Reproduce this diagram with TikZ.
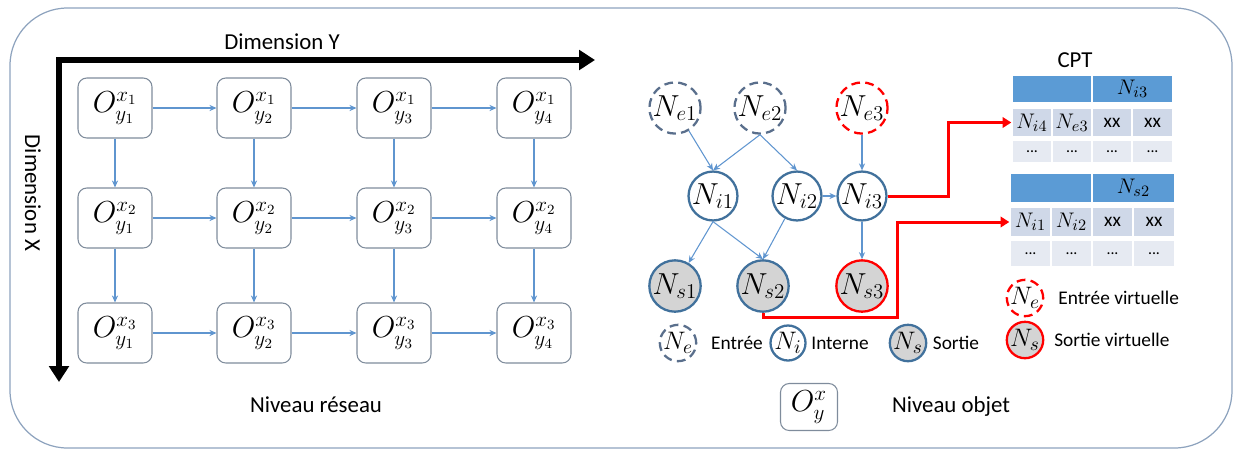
\documentclass[tikz,border=0pt]{standalone}
\usepackage{fontspec}
\setmainfont{Carlito}
\usetikzlibrary{arrows.meta}
\definecolor{framec}{HTML}{8EA3BE}
\definecolor{boxb}{HTML}{7F8C9C}
\definecolor{garr}{HTML}{5F95CF}
\definecolor{circb}{HTML}{41719C}
\definecolor{entb}{HTML}{5A6F8C}
\definecolor{sfill}{HTML}{D4D4D4}
\definecolor{vred}{HTML}{FF0000}
\definecolor{hdr}{HTML}{5B9BD5}
\definecolor{rowc}{HTML}{CFD8E8}
\definecolor{dotc}{HTML}{E6EAF2}
\begin{document}
\begin{tikzpicture}[x=0.02cm,y=-0.02cm,
  lbl/.style={font=\fontsize{13}{15}\selectfont, inner sep=0},
  smalllbl/.style={font=\fontsize{11}{13}\selectfont, inner sep=0},
  objbox/.style={draw=boxb, line width=0.6pt, rounded corners=5pt, fill=white, minimum width=1.48cm, minimum height=1.2cm, inner sep=0, font=\fontsize{16.5}{16.5}\selectfont},
  garrow/.style={draw=garr, line width=0.6pt, -{Stealth[length=4pt,width=3.5pt]}},
  axis/.style={line width=3.4pt, {Triangle[length=9pt,width=11pt]}-{Triangle[length=9pt,width=11pt]}},
  bnode/.style={circle, draw=circb, line width=1.3pt, minimum size=0.92cm, inner sep=0, font=\fontsize{16.5}{16.5}\selectfont},
  entnode/.style={bnode, draw=entb, dash pattern=on 5pt off 3pt},
  sornode/.style={bnode, fill=sfill},
  legsize/.style={minimum size=0.7cm, font=\fontsize{15}{15}\selectfont},
  redline/.style={draw=vred, line width=1.7pt, -{Triangle[length=5pt,width=6pt]}},
  tcell/.style={draw=white, line width=0.8pt, inner sep=0, font=\fontsize{13}{13}\selectfont},
  xxcell/.style={font=\fontsize{11}{11}\selectfont},
  dotcell/.style={tcell, fill=dotc, font=\fontsize{9}{9}\selectfont},
]
\useasboundingbox (0,0) rectangle (1234,451);
% outer frame
\draw[framec, line width=0.7pt, rounded corners=1.15cm] (10,8) rectangle (1232,448);

% axes
\coordinate (ax0) at (59,60);
\coordinate (axX) at (595,60);
\coordinate (axY) at (59,382);
\draw[axis] (axY) -- (ax0) -- (axX);
\node[lbl] (dimY) at (282,42) {Dimension Y};
\node[lbl, rotate=-90] (dimX) at (33,193) {Dimension X};

% grid of objects
\foreach \r/\y in {1/108,2/218,3/333}
  \foreach \c/\x in {1/115,2/254,3/394,4/534}
    \node[objbox] (o\r\c) at (\x,\y) {$O^{x_{\r}}_{y_{\c}}$};
\foreach \r in {1,2,3}
  \foreach \c/\n in {1/2,2/3,3/4}
    \draw[garrow] (o\r\c.east) -- (o\r\n.west);
\foreach \c in {1,2,3,4}
  \foreach \r/\n in {1/2,2/3}
    \draw[garrow] (o\r\c.south) -- (o\n\c.north);
\node[lbl] (nivres) at (316,405) {Niveau réseau};

% object-level graph
\node[entnode] (ne1) at (675,108) {$N_{e1}$};
\node[entnode] (ne2) at (760,108) {$N_{e2}$};
\node[entnode, draw=vred] (ne3) at (862,108) {$N_{e3}$};
\node[bnode] (ni1) at (713,196) {$N_{i1}$};
\node[bnode] (ni2) at (797,196) {$N_{i2}$};
\node[bnode] (ni3) at (862,196) {$N_{i3}$};
\node[sornode] (ns1) at (675,286) {$N_{s1}$};
\node[sornode] (ns2) at (763,286) {$N_{s2}$};
\node[sornode, draw=vred] (ns3) at (862,286) {$N_{s3}$};

\draw[garrow] (ne1) -- (ni1.north);
\draw[garrow] (ne2.south) -- (ni1.north);
\draw[garrow] (ne2.south) -- (ni2.north);
\draw[garrow] (ne3) -- (ni3);
\draw[garrow] (ni2) -- (ni3);
\draw[garrow] (ni1.south) -- (ns1);
\draw[garrow] (ni1.south) -- (ns2.north);
\draw[garrow] (ni2) -- (ns2.north);
\draw[garrow] (ni3) -- (ns3);

% legend row
\node[entnode, legsize] (lne) at (678,343) {$N_e$};
\node[smalllbl] (lent) at (737,343) {Entrée};
\node[bnode, legsize] (lni) at (788,343) {$N_i$};
\node[smalllbl] (lint) at (840,343) {Interne};
\node[sornode, legsize] (lns) at (908,343) {$N_s$};
\node[smalllbl] (lsor) at (956,343) {Sortie};

% CPT tables
\node[lbl] (cpt) at (1075,60) {CPT};
% table 1
\node[tcell, fill=hdr, minimum width=1.6cm, minimum height=0.56cm] (t1ha) at (1052,89) {};
\node[tcell, fill=hdr, minimum width=1.62cm, minimum height=0.56cm] (t1hb) at (1132.5,89) {$N_{i3}$};
\node[tcell, fill=rowc, minimum width=0.8cm, minimum height=0.58cm] (t1a) at (1032,122.5) {$N_{i4}$};
\node[tcell, fill=rowc, minimum width=0.8cm, minimum height=0.58cm] (t1b) at (1072,122.5) {$N_{e3}$};
\node[tcell, xxcell, fill=rowc, minimum width=0.8cm, minimum height=0.58cm] (t1c) at (1112,122.5) {xx};
\node[tcell, xxcell, fill=rowc, minimum width=0.82cm, minimum height=0.58cm] (t1d) at (1152.5,122.5) {xx};
\foreach \x/\n in {1032/a,1072/b,1112/c,1152.5/d}
  \node[dotcell, minimum width=0.8cm, minimum height=0.46cm] (t1dot\n) at (\x,151.5) {...};
% table 2
\node[tcell, fill=hdr, minimum width=1.64cm, minimum height=0.6cm] (t2ha) at (1051,188) {};
\node[tcell, fill=hdr, minimum width=1.66cm, minimum height=0.6cm] (t2hb) at (1133.5,188) {$N_{s2}$};
\node[tcell, fill=rowc, minimum width=0.82cm, minimum height=0.6cm] (t2a) at (1030.5,222) {$N_{i1}$};
\node[tcell, fill=rowc, minimum width=0.82cm, minimum height=0.6cm] (t2b) at (1071.5,222) {$N_{i2}$};
\node[tcell, xxcell, fill=rowc, minimum width=0.82cm, minimum height=0.6cm] (t2c) at (1112.5,222) {xx};
\node[tcell, xxcell, fill=rowc, minimum width=0.84cm, minimum height=0.6cm] (t2d) at (1154,222) {xx};
\foreach \x/\n in {1030.5/a,1071.5/b,1112.5/c,1154/d}
  \node[dotcell, minimum width=0.82cm, minimum height=0.54cm] (t2dot\n) at (\x,253.5) {...};

% red connectors
\coordinate (r1) at (948,196);
\draw[redline] (ni3.east) -- (r1) |- (t1a.west);
\coordinate (r2) at (897,317);
\draw[redline] (ns2.south) |- (r2) |- (t2a.west);

% virtual legend
\node[entnode, legsize, draw=vred] (lve) at (1025,298) {$N_e$};
\node[smalllbl, anchor=west] (lvet) at (1058,298) {Entrée virtuelle};
\node[sornode, legsize, draw=vred] (lvs) at (1025,340) {$N_s$};
\node[smalllbl, anchor=west] (lvst) at (1054,340) {Sortie virtuelle};

% object-level legend
\node[objbox, minimum width=1.14cm, minimum height=0.94cm] (lobj) at (809,407) {$O^{x}_{y}$};
\node[lbl] (nivobj) at (951,407) {Niveau objet};
\end{tikzpicture}
\end{document}
